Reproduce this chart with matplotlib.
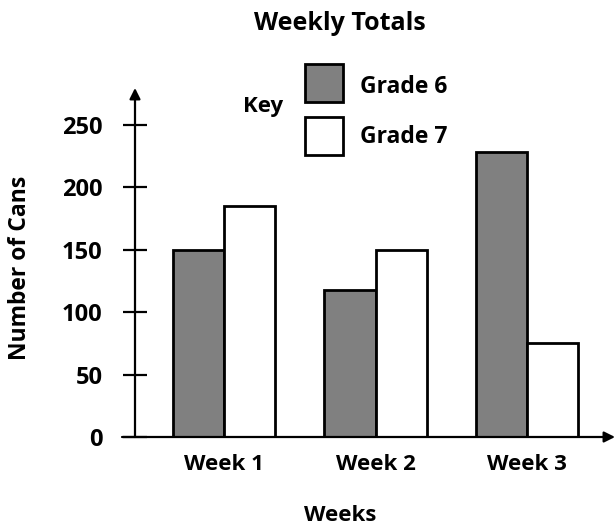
import matplotlib.pyplot as plt
from matplotlib.patches import Rectangle
import numpy as np

weeks = ["Week 1", "Week 2", "Week 3"]
grade6 = [150, 118, 228]
grade7 = [185, 150, 75]
y_ticks = [0, 50, 100, 150, 200, 250]

plt.rcParams["font.family"] = ["Open Sans", "DejaVu Sans"]
plt.rcParams["font.weight"] = "bold"

W, H = 615, 525
fig = plt.figure(figsize=(W / 100, H / 100), dpi=100)

# axes box placed in pixel terms: y axis at x=135, baseline at y=437
ax = fig.add_axes([135 / W, (H - 437) / H, (612 - 135) / W, (437 - 88) / H])

x = np.arange(1, len(weeks) + 1)
bw = 0.337
ax.bar(x - bw / 2, grade6, bw, color="#808080", edgecolor="black", linewidth=2, zorder=2)
ax.bar(x + bw / 2, grade7, bw, color="white", edgecolor="black", linewidth=2, zorder=2)

ax.set_xlim(0.4125, 3.561)
ax.set_ylim(0, 279.6)

for s in ax.spines.values():
    s.set_visible(False)

# axis lines with arrowheads
ax.annotate("", xy=(0, 1.0), xytext=(0, 0), xycoords="axes fraction",
            arrowprops=dict(arrowstyle="-|>", lw=1.6, color="black", mutation_scale=16,
                            shrinkA=0, shrinkB=0), annotation_clip=False)
ax.annotate("", xy=(1.0 + 3 / 477, 0), xytext=(-13 / 477, 0), xycoords="axes fraction",
            arrowprops=dict(arrowstyle="-|>", lw=1.6, color="black", mutation_scale=16,
                            shrinkA=0, shrinkB=0), annotation_clip=False)

ax.set_yticks(y_ticks)
ax.set_yticklabels([str(v) for v in y_ticks], fontweight="bold")
ax.tick_params(axis="y", direction="inout", length=17, width=1.6, pad=15, labelsize=17)
ax.set_xticks(x)
ax.set_xticklabels(weeks, fontweight="bold")
ax.tick_params(axis="x", length=0, pad=12, labelsize=16)

fig.text(340 / W, 1 - 30 / H, "Weekly Totals", ha="center", va="baseline", fontsize=18, fontweight="bold")
fig.text(20 / W, 1 - 268 / H, "Number of Cans", ha="center", va="center", rotation=90, fontsize=16.5, fontweight="bold")
fig.text(340 / W, 1 - 521 / H, "Weeks", ha="center", va="baseline", fontsize=16, fontweight="bold")

# key
fig.text(263 / W, 1 - 112 / H, "Key", ha="center", va="baseline", fontsize=16, fontweight="bold")
for top, base, fc, label in [(64, 93, "#808080", "Grade 6"), (117, 143, "white", "Grade 7")]:
    fig.add_artist(Rectangle((305 / W, 1 - (top + 38) / H), 38 / W, 38 / H,
                             transform=fig.transFigure, facecolor=fc, edgecolor="black", linewidth=2))
    fig.text(360 / W, 1 - base / H, label, ha="left", va="baseline", fontsize=16.5, fontweight="bold")

fig.savefig("out.png", dpi=100)
